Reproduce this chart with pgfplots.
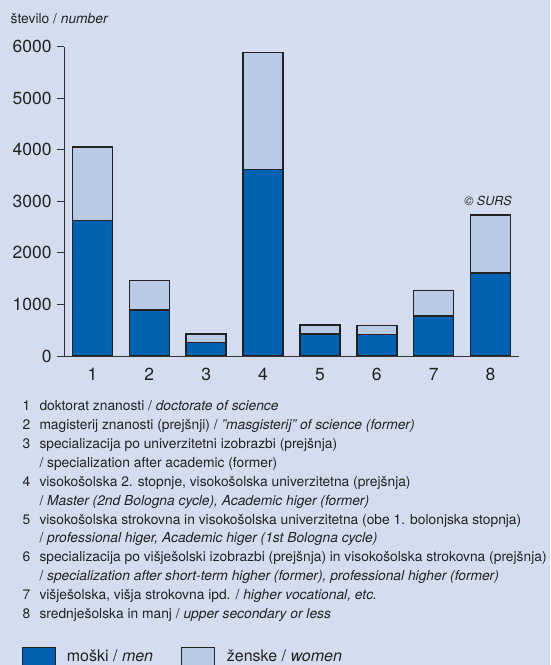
\documentclass[border=0pt]{standalone}
\usepackage{fontspec}
\setmainfont{TeX Gyre Heros}
\usepackage{pgfplots}
\pgfplotsset{compat=1.18}
\definecolor{bg}{HTML}{D4DDEF}
\definecolor{men}{HTML}{0063B1}
\definecolor{women}{HTML}{B9CAE7}
\definecolor{outl}{HTML}{222222}
\definecolor{axc}{HTML}{333333}
\definecolor{txt}{HTML}{222222}
\begin{document}
\begin{tikzpicture}[x=1pt,y=1pt]
\clip (0,0) rectangle (550,665);
\fill[bg] (0,0) rectangle (550,665);
\begin{axis}[
  at={(64pt,309pt)}, anchor=south west,
  scale only axis, width=455pt, height=309.3pt,
  xmin=0.5, xmax=8.5, ymin=0, ymax=6000,
  ybar stacked, bar width=40pt,
  axis x line*=bottom, axis y line*=left,
  axis line style={-, draw=axc, line width=0.9pt},
  ytick={0,1000,2000,3000,4000,5000,6000},
  xtick={1,2,3,4,5,6,7,8},
  x tick style={draw=none},
  y tick style={draw=axc, line width=0.9pt},
  tick align=outside, major tick length=7pt,
  ticklabel style={font=\fontsize{17.5}{20}\selectfont, text=txt},
  yticklabel style={inner sep=0pt, xshift=-5.3pt},
  xticklabel style={inner sep=0pt, yshift=-5pt},
  /pgf/number format/assume math mode=true,
  /pgf/number format/set thousands separator={},
]
\addplot[fill=men, draw=outl, line width=1.5pt] coordinates {(1,2625) (2,892) (3,259) (4,3615) (5,427) (6,414) (7,776) (8,1610)};
\addplot[fill=women, draw=outl, line width=1.5pt] coordinates {(1,1429) (2,569) (3,168) (4,2269) (5,174) (6,174) (7,491) (8,1125)};
\end{axis}
\begin{scope}[every node/.style={inner sep=0pt, anchor=base west, text=txt, font=\fontsize{13.8}{16}\selectfont}]
\node at (10.5,641) {število / \textit{number}};
\node[anchor=base, font=\fontsize{12.5}{15}\selectfont\itshape] at (488,459) {© SURS};
\node at (22.5,254.3) {1};
\node at (39.3,254.3) {doktorat znanosti / \textit{doctorate of science}};
\node at (22.5,235.4) {2};
\node at (39.3,235.4) {magisterij znanosti (prejšnji) / \textit{"masgisterij" of science (former)}};
\node at (22.5,216.5) {3};
\node at (39.3,216.5) {specializacija po univerzitetni izobrazbi (prejšnja)};
\node at (39.3,197.6) {/ specialization after academic (former)};
\node at (22.5,178.7) {4};
\node at (39.3,178.7) {visokošolska 2. stopnje, visokošolska univerzitetna (prejšnja)};
\node at (39.3,159.8) {/ \textit{Master (2nd Bologna cycle), Academic higer (former)}};
\node at (22.5,140.9) {5};
\node at (39.3,140.9) {visokošolska strokovna in visokošolska univerzitetna (obe 1. bolonjska stopnja)};
\node at (39.3,122.0) {/ \textit{professional higer, Academic higer (1st Bologna cycle)}};
\node at (22.5,103.1) {6};
\node at (39.3,103.1) {specializacija po višješolski izobrazbi (prejšnja) in visokošolska strokovna (prejšnja)};
\node at (39.3,84.2) {/ \textit{specialization after short-term higher (former), professional higher (former)}};
\node at (22.5,65.3) {7};
\node at (39.3,65.3) {višješolska, višja strokovna ipd. / \textit{higher vocational, etc.}};
\node at (22.5,46.4) {8};
\node at (39.3,46.4) {srednješolska in manj / \textit{upper secondary or less}};
\end{scope}
\filldraw[fill=men, draw=outl, line width=1.5pt] (22.7,-5) rectangle (55.7,17.3);
\filldraw[fill=women, draw=outl, line width=1.5pt] (181.7,-5) rectangle (214.3,17.3);
\node[inner sep=0pt, anchor=base west, text=txt, font=\fontsize{16}{19}\selectfont] at (66.7,4) {moški / \textit{men}};
\node[inner sep=0pt, anchor=base west, text=txt, font=\fontsize{16}{19}\selectfont] at (226.7,4) {ženske / \textit{women}};
\end{tikzpicture}
\end{document}
